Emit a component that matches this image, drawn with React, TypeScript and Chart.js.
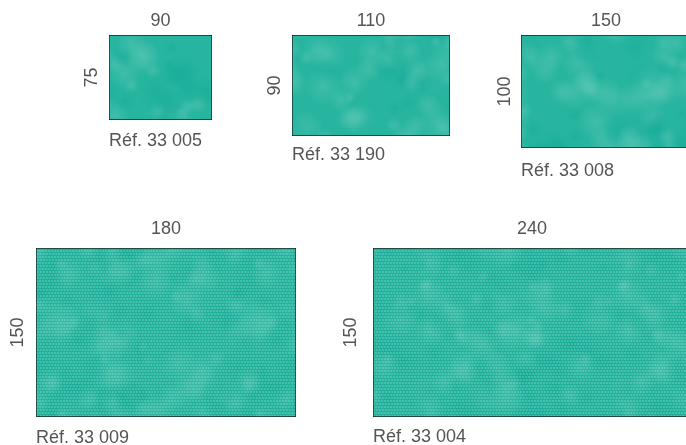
import React, { useEffect, useRef } from 'react';
import { Chart, registerables } from 'chart.js';

Chart.register(...registerables);

// ---- data ----
const refs = ['Réf. 33 005', 'Réf. 33 190', 'Réf. 33 008', 'Réf. 33 009', 'Réf. 33 004'];
const widthsCm = [90, 110, 150, 180, 240];
const heightsCm = [75, 90, 100, 150, 150];

// ---- layout & style (not data) ----
const PX_PER_CM_Y = 1.127;
const LH = 18;
const FONT = { family: "'Liberation Sans', Arial, Helvetica, sans-serif", size: 18, lineHeight: 1, weight: 'normal' as const };
const TEXT_COLOR = '#555555';
const BORDER_COLOR = '#142622';
// panel placement: left/top of the drawn box, its pixel width, label offsets
const LAYOUT = [
  { left: 109, top: 35, pw: 103, topOff: 14, sideOff: 17, botOff: 21, dotted: false },
  { left: 292, top: 35, pw: 158, topOff: 14, sideOff: 17, botOff: 19, dotted: false },
  { left: 521, top: 35, pw: 170, topOff: 14, sideOff: 16, botOff: 23, dotted: false },
  { left: 36, top: 248, pw: 260, topOff: 19, sideOff: 18, botOff: 21, dotted: true },
  { left: 373, top: 248, pw: 318, topOff: 19, sideOff: 22, botOff: 20, dotted: true },
];

function makeTexture(target: CanvasRenderingContext2D, dotted: boolean, seed: number) {
  const W = 198, H = 150;
  const c = document.createElement('canvas');
  c.width = W; c.height = H;
  const g = c.getContext('2d')!;
  g.fillStyle = '#27b5a0';
  g.fillRect(0, 0, W, H);
  let s = seed * 7919 + 104729;
  const rnd = () => { s = (s * 9301 + 49297) % 233280; return s / 233280; };
  for (let k = 0; k < 90; k++) {
    const x = rnd() * W, y = rnd() * H, r = 6 + rnd() * 14;
    const light = rnd() > 0.45;
    const c0 = light ? 'rgba(108,204,188,0.35)' : 'rgba(16,168,148,0.35)';
    const c1 = light ? 'rgba(108,204,188,0)' : 'rgba(16,168,148,0)';
    for (const dx of [-W, 0, W]) for (const dy of [-H, 0, H]) {
      const cx = x + dx, cy = y + dy;
      if (cx + r < 0 || cx - r > W || cy + r < 0 || cy - r > H) continue;
      const grd = g.createRadialGradient(cx, cy, 0, cx, cy, r);
      grd.addColorStop(0, c0);
      grd.addColorStop(1, c1);
      g.fillStyle = grd;
      g.fillRect(cx - r, cy - r, 2 * r, 2 * r);
    }
  }
  if (dotted) {
    g.fillStyle = 'rgba(150,224,210,0.28)';
    for (let y = 0; y < H; y += 3) {
      const off = (y / 3) % 2 ? 1 : 0;
      for (let x = off; x < W; x += 3) g.fillRect(x, y, 2, 2);
    }
    g.fillStyle = 'rgba(10,150,130,0.14)';
    for (let y = 2; y < H; y += 3) g.fillRect(0, y, W, 1);
  }
  return target.createPattern(c, 'repeat')!;
}

function Panel({ i }: { i: number }) {
  const ref = useRef<HTMLCanvasElement>(null);
  const L = LAYOUT[i];
  const ph = Math.round(heightsCm[i] * PX_PER_CM_Y);
  const axisW = L.sideOff + LH / 2;
  const topH = L.topOff + LH / 2;
  const botH = L.botOff + LH / 2;
  const cw = Math.round(axisW + L.pw);
  const ch = Math.round(topH + ph + botH);
  const cl = Math.round(L.left - axisW);
  const ct = Math.round(L.top - topH);

  useEffect(() => {
    const canvas = ref.current!;
    const ctx = canvas.getContext('2d')!;
    const pattern = makeTexture(ctx, L.dotted, i + 3);
    const noGrid = { display: false, drawTicks: false, tickLength: 0 };
    const chart = new Chart(canvas, {
      type: 'bar',
      data: {
        labels: [refs[i]],
        datasets: [{
          data: [heightsCm[i]],
          backgroundColor: pattern as any,
          borderColor: BORDER_COLOR,
          borderWidth: 1,
          borderSkipped: false,
          barPercentage: 1,
          categoryPercentage: 1,
        }],
      },
      options: {
        responsive: false,
        animation: false,
        devicePixelRatio: 1,
        events: [],
        layout: { padding: 0 },
        scales: {
          x: {
            position: 'top',
            offset: true,
            grid: noGrid,
            border: { display: false },
            ticks: { display: false },
            title: { display: true, text: String(widthsCm[i]), font: FONT, color: TEXT_COLOR, padding: { top: 0, bottom: L.topOff - LH / 2 } },
          },
          y: {
            min: 0,
            max: heightsCm[i],
            grid: noGrid,
            border: { display: false },
            ticks: { display: false },
            title: { display: true, text: String(heightsCm[i]), font: FONT, color: TEXT_COLOR, padding: { top: 0, bottom: L.sideOff - LH / 2 } },
          },
        },
        plugins: {
          legend: { display: false },
          tooltip: { enabled: false },
          title: { display: false },
          subtitle: {
            display: true,
            position: 'bottom',
            align: 'start',
            fullSize: false,
            text: refs[i],
            font: FONT,
            color: TEXT_COLOR,
            padding: { top: L.botOff - LH / 2, bottom: 0 },
          },
        },
      } as any,
    });
    return () => chart.destroy();
  }, []);

  return (
    <canvas
      ref={ref}
      width={cw}
      height={ch}
      style={{ position: 'absolute', left: cl, top: ct, width: cw, height: ch, display: 'block' }}
    />
  );
}

export default function App() {
  return (
    <div style={{ position: 'absolute', left: 0, top: 0, width: 686, height: 445, overflow: 'hidden', background: '#ffffff' }}>
      {refs.map((_, i) => <Panel key={i} i={i} />)}
    </div>
  );
}
